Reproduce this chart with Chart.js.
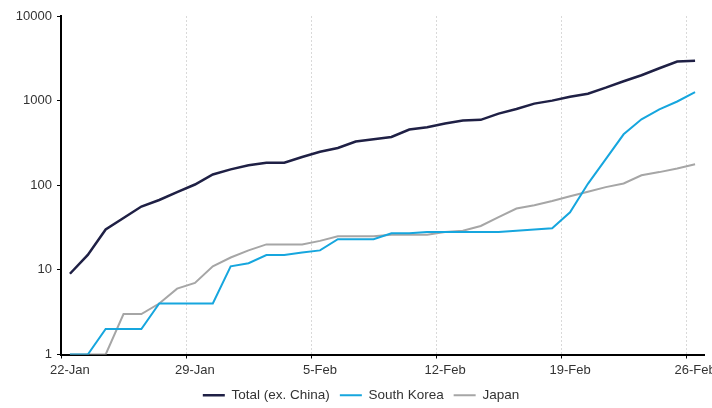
<!DOCTYPE html>
<html>
<head>
<meta charset="utf-8">
<script src="https://cdn.jsdelivr.net/npm/chart.js@4.4.1/dist/chart.umd.min.js"></script>
<style>
    html, body { margin: 0; padding: 0; background: #fff; }
</style>
</head>
<body>
<canvas id="myChart" width="712" height="408"></canvas>
<script>
// daily dates, 22-Jan to 26-Feb
const days = [
    '22-Jan', '23-Jan', '24-Jan', '25-Jan', '26-Jan', '27-Jan', '28-Jan', '29-Jan', '30-Jan', '31-Jan',
    '1-Feb', '2-Feb', '3-Feb', '4-Feb', '5-Feb', '6-Feb', '7-Feb', '8-Feb', '9-Feb', '10-Feb',
    '11-Feb', '12-Feb', '13-Feb', '14-Feb', '15-Feb', '16-Feb', '17-Feb', '18-Feb', '19-Feb', '20-Feb',
    '21-Feb', '22-Feb', '23-Feb', '24-Feb', '25-Feb', '26-Feb'
];

const totalExChina = [9, 15, 30, 41, 56, 67, 83, 102, 134, 154, 172, 185, 185, 216, 249, 276, 329, 350,
    372, 456, 485, 536, 582, 593, 703, 795, 922, 1000, 1114, 1208, 1422, 1696, 1995, 2412, 2900, 2950];

const southKorea = [1, 1, 2, 2, 2, 4, 4, 4, 4, 11, 12, 15, 15, 16, 17, 23, 23, 23,
    27, 27, 28, 28, 28, 28, 28, 29, 30, 31, 48, 104, 204, 400, 602, 790, 977, 1261];

const japan = [1, 1, 1, 3, 3, 4, 6, 7, 11, 14, 17, 20, 20, 20, 22, 25, 25, 25,
    26, 26, 26, 28, 29, 33, 42, 53, 58, 65, 74, 84, 95, 105, 131, 143, 158, 177];

const yTicks = [1, 10, 100, 1000, 10000];

const ctx = document.getElementById('myChart').getContext('2d');

const font = { family: "'Liberation Sans', Arial, sans-serif", size: 13 };

// legend sits a little right of centre in the original
const legendShift = {
    id: 'legendShift',
    afterLayout(chart) {
        chart.legend.left += 9;
        chart.legend.right += 9;
    }
};

const config = {
    type: 'line',
    data: {
        labels: days,
        datasets: [
            {
                label: 'Total (ex. China)',
                data: totalExChina,
                borderColor: '#1f2045',
                backgroundColor: '#1f2045',
                borderWidth: 2.5,
            },
            {
                label: 'South Korea',
                data: southKorea,
                borderColor: '#16a6de',
                backgroundColor: '#16a6de',
                borderWidth: 2,
            },
            {
                label: 'Japan',
                data: japan,
                borderColor: '#a6a6a6',
                backgroundColor: '#a6a6a6',
                borderWidth: 2,
            },
        ]
    },
    options: {
        responsive: false,
        animation: false,
        devicePixelRatio: 1,
        elements: {
            point: { radius: 0 },
            line: { tension: 0 }
        },
        layout: {
            padding: { top: 16, right: 8, left: 0, bottom: -4 }
        },
        plugins: {
            legend: {
                position: 'bottom',
                labels: {
                    usePointStyle: true,
                    pointStyle: 'line',
                    pointStyleWidth: 22,
                    padding: 10,
                    color: '#333',
                    font: { family: font.family, size: 13.5 }
                }
            },
            tooltip: { enabled: false }
        },
        scales: {
            x: {
                type: 'category',
                offset: true,
                grid: {
                    offset: true,
                    drawOnChartArea: true,
                    color: (c) => (c.index > 0 && c.index % 7 === 0) ? '#d9d9d9' : 'transparent',
                    tickColor: (c) => (c.index % 7 === 0) ? '#000' : 'transparent',
                    tickLength: 4,
                    lineWidth: 1
                },
                border: { color: '#000', width: 2, dash: [2, 2] },
                ticks: {
                    autoSkip: false,
                    maxRotation: 0,
                    padding: 4,
                    color: '#333',
                    font: font,
                    callback: (v, i) => (i % 7 === 0 ? days[i] : '')
                },
                afterFit: (s) => {
                    s.height = 24;
                    s.paddingLeft = 0;
                    s.paddingRight = 0;
                }
            },
            y: {
                type: 'logarithmic',
                min: 1,
                max: 10000,
                grid: {
                    drawOnChartArea: false,
                    color: '#000',
                    tickLength: 4
                },
                border: { color: '#000', width: 2 },
                ticks: {
                    padding: 5,
                    color: '#333',
                    font: font,
                    callback: (v) => String(v)
                },
                afterBuildTicks: (s) => {
                    s.ticks = yTicks.map((v) => ({ value: v }));
                },
                afterFit: (s) => {
                    s.width = 61;
                }
            }
        }
    },
    plugins: [legendShift]
};

const myChart = new Chart(ctx, config);
</script>
</body>
</html>
